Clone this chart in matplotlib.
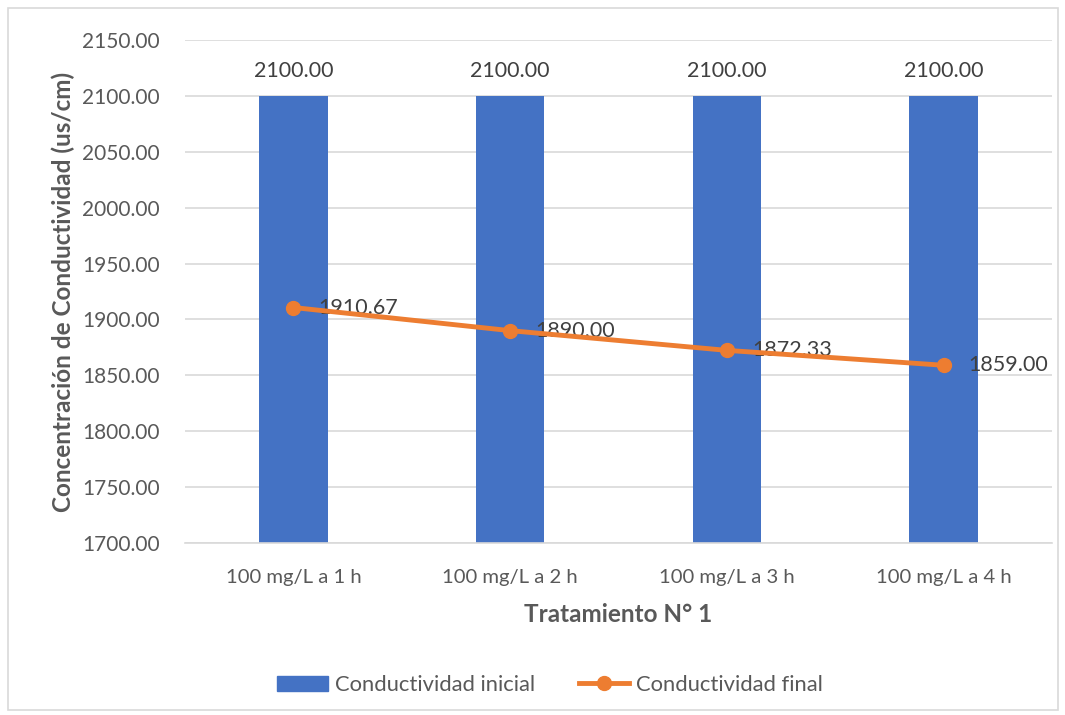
import matplotlib.pyplot as plt
import numpy as np
from matplotlib.patches import Rectangle
from matplotlib.lines import Line2D

categories = ["100 mg/L a 1 h", "100 mg/L a 2 h", "100 mg/L a 3 h", "100 mg/L a 4 h"]
cond_inicial = [2100.00, 2100.00, 2100.00, 2100.00]
cond_final = [1910.67, 1890.00, 1872.33, 1859.00]

BLUE = "#4472C4"
ORANGE = "#ED7D31"
TEXT = "#595959"
GRID = "#D9D9D9"

plt.rcParams['font.family'] = ['Lato', 'DejaVu Sans']

fig = plt.figure(figsize=(10.65, 7.15), dpi=100, facecolor='white')
ax = fig.add_axes([185 / 1065, 1 - 543 / 715, (1052 - 185) / 1065, (543 - 40) / 715])

# chart border
fig.patches.append(Rectangle((8 / 1065, 5 / 715), 1050 / 1065, 702 / 715, transform=fig.transFigure,
                             fill=False, edgecolor=GRID, linewidth=1.2))

x = np.arange(len(categories))
ax.bar(x, cond_inicial, width=0.315, color=BLUE, zorder=2, label="Conductividad inicial")
ax.plot(x, cond_final, color=ORANGE, linewidth=3.5, marker='o', markersize=10, zorder=4,
        label="Conductividad final")

for xi, v in zip(x, cond_inicial):
    ax.annotate(f"{v:.2f}", (xi, v), textcoords="offset points", xytext=(0, 11), ha='center',
                va='bottom', fontsize=15.5, color='#404040', zorder=5)
for xi, v in zip(x, cond_final):
    ax.annotate(f"{v:.2f}", (xi, v), textcoords="offset points", xytext=(18, 0), ha='left',
                va='center', fontsize=15.5, color='#404040', zorder=3)

ax.set_xlim(-0.5, len(categories) - 0.5)
ax.set_ylim(1700, 2150)
ax.set_yticks(np.arange(1700, 2151, 50))
ax.yaxis.set_major_formatter(plt.FuncFormatter(lambda v, p: f"{v:.2f}"))
ax.set_xticks(x)
ax.set_xticklabels(categories)
ax.tick_params(axis='both', length=0, labelsize=15, colors=TEXT)
ax.tick_params(axis='x', labelsize=14.6, pad=19)
ax.tick_params(axis='y', pad=18)
ax.grid(True, axis='y', color=GRID, linewidth=1.2, zorder=0)
ax.set_axisbelow(True)
for s in ['top', 'right', 'left']:
    ax.spines[s].set_visible(False)
ax.spines['bottom'].set_color(GRID)
ax.spines['bottom'].set_linewidth(1.2)

ax.set_xlabel("Tratamiento N° 1", fontsize=17.5, fontweight='bold', color=TEXT, labelpad=12)
ax.set_ylabel("Concentración de Conductividad (us/cm)", fontsize=17.5, fontweight='bold',
              color=TEXT, labelpad=5)

handles = [Rectangle((0, 0), 1, 1, color=BLUE),
           Line2D([0], [0], color=ORANGE, linewidth=3.5, marker='o', markersize=10)]
fig.legend(handles, ["Conductividad inicial", "Conductividad final"], loc='center',
           bbox_to_anchor=(550 / 1065, 1 - 685 / 715), ncol=2, frameon=False, fontsize=15.8,
           labelcolor=TEXT, handlelength=2.3, handletextpad=0.3, columnspacing=2.0)

fig.savefig("out.png", dpi=100, facecolor='white')
